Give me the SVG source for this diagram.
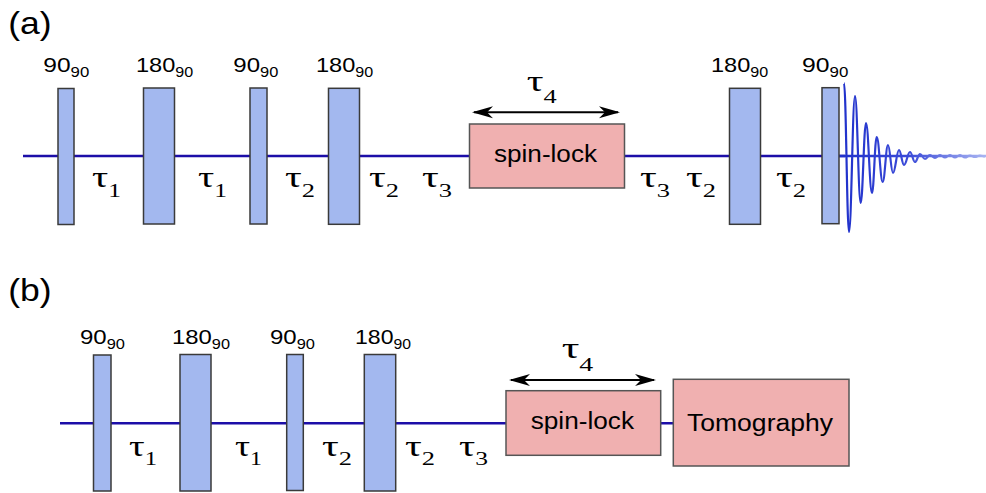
<svg xmlns="http://www.w3.org/2000/svg" width="986" height="493" viewBox="0 0 986 493">
<style>
.pulse{fill:#a3b8ef;stroke:#3a3a3a;stroke-width:1.5}
.box{fill:#f0b0b0;stroke:#555;stroke-width:1.5}
.base{stroke:#1c0ea8;stroke-width:2.6;fill:none}
.arrow{stroke:#000;stroke-width:2;fill:none;marker-start:url(#ah);marker-end:url(#ah)}
.lbl{font-family:"Liberation Sans",Arial,sans-serif;font-size:20.5px;fill:#000}
.sub{font-size:14px}
.tau{font-family:"Liberation Serif","Times New Roman",serif;font-size:30px;fill:#000}
.tsub{font-size:19px}
.panel{font-family:"Liberation Sans",Arial,sans-serif;font-size:32px;fill:#000}
.boxt{font-family:"Liberation Sans",Arial,sans-serif;font-size:23px;fill:#000}
</style>
<defs>
<marker id="ah" viewBox="-22 -8 24 16" refX="-2" refY="0" markerWidth="24" markerHeight="16" markerUnits="userSpaceOnUse" orient="auto-start-reverse">
<path d="M0,0 L-21,-6 L-15,0 L-21,6 Z" fill="#000"/>
</marker>
<linearGradient id="fidg" gradientUnits="userSpaceOnUse" x1="845" y1="0" x2="985" y2="0">
<stop offset="0" stop-color="#2233cc"/>
<stop offset="0.45" stop-color="#3a4ad8"/>
<stop offset="1" stop-color="#a8b4f2"/>
</linearGradient>
</defs>

<text class="panel" x="8.3" y="33.5" textLength="43.4" lengthAdjust="spacingAndGlyphs">(a)</text>
<text class="panel" x="8.3" y="300.8" textLength="43.4" lengthAdjust="spacingAndGlyphs">(b)</text>

<g id="connectors">
<line class="base" x1="23" y1="156" x2="845" y2="156"/>
<line x1="839" y1="156" x2="986" y2="156" stroke="url(#fidg)" stroke-width="2.4"/>
<line class="base" x1="60" y1="423.3" x2="674" y2="423.3"/>
<line class="arrow" x1="474" y1="112.3" x2="618" y2="112.3"/>
<line class="arrow" x1="511" y1="380" x2="654" y2="380"/>
</g>

<g id="a-pulse1"><rect class="pulse" x="58" y="88.5" width="16" height="136"/>
<text class="lbl" x="43.3" y="72" textLength="46" lengthAdjust="spacingAndGlyphs">90<tspan class="sub" dy="4.7">90</tspan></text></g>
<g id="a-pulse2"><rect class="pulse" x="143.5" y="88" width="31" height="136"/>
<text class="lbl" x="136" y="72" textLength="57.3" lengthAdjust="spacingAndGlyphs">180<tspan class="sub" dy="4.7">90</tspan></text></g>
<g id="a-pulse3"><rect class="pulse" x="250" y="88" width="17" height="136"/>
<text class="lbl" x="233.3" y="72" textLength="45" lengthAdjust="spacingAndGlyphs">90<tspan class="sub" dy="4.7">90</tspan></text></g>
<g id="a-pulse4"><rect class="pulse" x="328.5" y="88.3" width="31" height="136"/>
<text class="lbl" x="316" y="72" textLength="57.3" lengthAdjust="spacingAndGlyphs">180<tspan class="sub" dy="4.7">90</tspan></text></g>
<g id="a-spinlock"><rect class="box" x="469.5" y="124" width="155" height="64"/>
<text class="boxt" x="494" y="162" textLength="103" lengthAdjust="spacingAndGlyphs">spin-lock</text></g>
<g id="a-pulse5"><rect class="pulse" x="729.5" y="88.3" width="31" height="136"/>
<text class="lbl" x="711" y="72" textLength="57.3" lengthAdjust="spacingAndGlyphs">180<tspan class="sub" dy="4.7">90</tspan></text></g>
<g id="a-pulse6"><rect class="pulse" x="822" y="87.7" width="17" height="136"/>
<text class="lbl" x="802" y="72" textLength="46.3" lengthAdjust="spacingAndGlyphs">90<tspan class="sub" dy="4.7">90</tspan></text></g>

<g id="a-fid">
<path fill="none" stroke="url(#fidg)" stroke-width="2.2" stroke-linejoin="round" d="M844,83 C846,83 847,232 849,232 C851.4,232 852.6,96 855,96 C857.3,96 858.4,203 860.7,203 C862.8,203 863.9,123 866,123 C868.4,123 869.6,193 872,193 C873.9,193 874.8,137 876.7,137 C879.1,137 880.3,182 882.7,182 C884.8,182 885.9,145 888,145 C890,145 891,173 893,173 C895.4,173 896.6,150 899,150 C901,150 902,165 904,165 C906.4,165 907.6,152 910,152 C912,152 913,162 915,162 C917,162 918,154 920,154 C922,154 923,159 925,159 C927,159 928,155 930,155 C932,155 933,158 935,158 C937,158 938,155 940,155 C942,155 943,157.5 945,157.5 C947,157.5 948,155 950,155 C952,155 953,157.5 955,157.5 C957,157.5 958,155 960,155 C962,155 963,157.5 965,157.5 C967,157.5 968,155.5 970,155.5 C972,155.5 973,157 975,157 C977,157 978,155.5 980,155.5 C982,155.5 983,156.5 985,156.5"/>
</g>

<g id="a-taus">
<text class="tau" x="92" y="187" textLength="29" lengthAdjust="spacingAndGlyphs">τ<tspan class="tsub" dy="10">1</tspan></text>
<text class="tau" x="198" y="187" textLength="29" lengthAdjust="spacingAndGlyphs">τ<tspan class="tsub" dy="10">1</tspan></text>
<text class="tau" x="285" y="187" textLength="30" lengthAdjust="spacingAndGlyphs">τ<tspan class="tsub" dy="10">2</tspan></text>
<text class="tau" x="369" y="187" textLength="30" lengthAdjust="spacingAndGlyphs">τ<tspan class="tsub" dy="10">2</tspan></text>
<text class="tau" x="422" y="187" textLength="30" lengthAdjust="spacingAndGlyphs">τ<tspan class="tsub" dy="10">3</tspan></text>
<text class="tau" x="640" y="187" textLength="30" lengthAdjust="spacingAndGlyphs">τ<tspan class="tsub" dy="10">3</tspan></text>
<text class="tau" x="686" y="187" textLength="30" lengthAdjust="spacingAndGlyphs">τ<tspan class="tsub" dy="10">2</tspan></text>
<text class="tau" x="776" y="187" textLength="30" lengthAdjust="spacingAndGlyphs">τ<tspan class="tsub" dy="10">2</tspan></text>
<text class="tau" x="526.7" y="91" textLength="30" lengthAdjust="spacingAndGlyphs">τ<tspan class="tsub" dy="12">4</tspan></text>
</g>

<g id="b-pulse1"><rect class="pulse" x="93.5" y="355" width="17.5" height="136"/>
<text class="lbl" x="80" y="344" textLength="45" lengthAdjust="spacingAndGlyphs">90<tspan class="sub" dy="4.7">90</tspan></text></g>
<g id="b-pulse2"><rect class="pulse" x="180" y="354.5" width="31" height="136.5"/>
<text class="lbl" x="172" y="344" textLength="58" lengthAdjust="spacingAndGlyphs">180<tspan class="sub" dy="4.7">90</tspan></text></g>
<g id="b-pulse3"><rect class="pulse" x="286.7" y="354.5" width="16.6" height="136"/>
<text class="lbl" x="270" y="344" textLength="45" lengthAdjust="spacingAndGlyphs">90<tspan class="sub" dy="4.7">90</tspan></text></g>
<g id="b-pulse4"><rect class="pulse" x="364.3" y="354.5" width="31.4" height="136.5"/>
<text class="lbl" x="355" y="344" textLength="56" lengthAdjust="spacingAndGlyphs">180<tspan class="sub" dy="4.7">90</tspan></text></g>
<g id="b-spinlock"><rect class="box" x="506" y="390.7" width="154.7" height="64.6"/>
<text class="boxt" x="530.7" y="429.3" textLength="103.3" lengthAdjust="spacingAndGlyphs">spin-lock</text></g>
<g id="b-tomography"><rect class="box" x="673.3" y="379.3" width="175.7" height="86.7"/>
<text class="boxt" x="687" y="430.7" textLength="146" lengthAdjust="spacingAndGlyphs">Tomography</text></g>

<g id="b-taus">
<text class="tau" x="129" y="456" textLength="28" lengthAdjust="spacingAndGlyphs">τ<tspan class="tsub" dy="9">1</tspan></text>
<text class="tau" x="235" y="456" textLength="27" lengthAdjust="spacingAndGlyphs">τ<tspan class="tsub" dy="9">1</tspan></text>
<text class="tau" x="322" y="456" textLength="30" lengthAdjust="spacingAndGlyphs">τ<tspan class="tsub" dy="9">2</tspan></text>
<text class="tau" x="405" y="456" textLength="30" lengthAdjust="spacingAndGlyphs">τ<tspan class="tsub" dy="9">2</tspan></text>
<text class="tau" x="459" y="456" textLength="29" lengthAdjust="spacingAndGlyphs">τ<tspan class="tsub" dy="9">3</tspan></text>
<text class="tau" x="561.7" y="358" textLength="31.6" lengthAdjust="spacingAndGlyphs">τ<tspan class="tsub" dy="13">4</tspan></text>
</g>
</svg>
